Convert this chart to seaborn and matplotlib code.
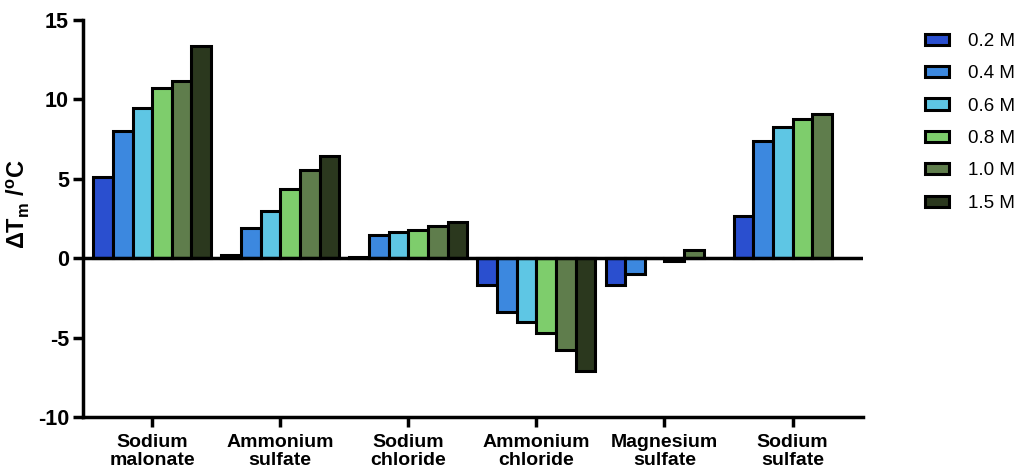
import matplotlib

matplotlib.use("Agg")

import matplotlib.pyplot as plt
import pandas as pd
import seaborn as sns

salts = [
    "Sodium\nmalonate",
    "Ammonium\nsulfate",
    "Sodium\nchloride",
    "Ammonium\nchloride",
    "Magnesium\nsulfate",
    "Sodium\nsulfate",
]
concentrations = ["0.2 M", "0.4 M", "0.6 M", "0.8 M", "1.0 M", "1.5 M"]

# delta Tm per salt, one list per concentration (None = not measured)
dtm_02 = [5.1, 0.2, 0.05, -1.7, -1.7, 2.65]
dtm_04 = [8.0, 1.9, 1.45, -3.4, -1.0, 7.35]
dtm_06 = [9.45, 3.0, 1.65, -4.0, 0.0, 8.25]
dtm_08 = [10.7, 4.35, 1.75, -4.7, -0.2, 8.75]
dtm_10 = [11.15, 5.55, 2.05, -5.8, 0.5, 9.05]
dtm_15 = [13.35, 6.45, 2.25, -7.1, None, None]

palette = ["#2a4fcf", "#3c88df", "#5ec6e4", "#7ecd6c", "#5f7d4c", "#2b381e"]

rows = []
for conc, vals in zip(concentrations, [dtm_02, dtm_04, dtm_06, dtm_08, dtm_10, dtm_15]):
    for salt, v in zip(salts, vals):
        rows.append({"salt": salt, "conc": conc, "dtm": v})
df = pd.DataFrame(rows)

sns.set_style("ticks")
plt.rcParams["font.family"] = ["Liberation Sans", "DejaVu Sans"]
plt.rcParams.update(
    {
        "text.color": "black",
        "axes.labelcolor": "black",
        "axes.edgecolor": "black",
        "xtick.color": "black",
        "ytick.color": "black",
        "axes.unicode_minus": False,
        "mathtext.fontset": "custom",
        "mathtext.rm": "Liberation Sans",
        "mathtext.bf": "Liberation Sans:bold",
    }
)

fig = plt.figure(figsize=(10.22, 4.73), dpi=100)
ax = fig.add_axes([0.0812, 0.1184, 0.7632, 0.8393])

sns.barplot(
    data=df,
    x="salt",
    y="dtm",
    hue="conc",
    hue_order=concentrations,
    order=salts,
    palette=palette,
    width=0.92,
    edgecolor="black",
    linewidth=2.2,
    saturation=1,
    errorbar=None,
    ax=ax,
)

ax.axhline(0, color="black", linewidth=2.5, zorder=5)
ax.set_ylim(-10, 15)
ax.set_xlim(-0.54, 5.55)
ax.set_yticks([-10, -5, 0, 5, 10, 15])
ax.set_xlabel("")
ax.set_ylabel(r"ΔT$_\mathbf{m}$ /$^\mathbf{o}$C", fontsize=17, fontweight="bold")
ax.yaxis.set_label_coords(-0.066, 0.535)

sns.despine(ax=ax)
for side in ["left", "bottom"]:
    ax.spines[side].set_linewidth(2.5)
ax.tick_params(axis="both", width=2.5, length=7)
ax.tick_params(axis="x", labelsize=14, pad=5)
ax.tick_params(axis="y", labelsize=15.5, pad=3)
for lab in ax.get_xticklabels() + ax.get_yticklabels():
    lab.set_fontweight("bold")
for lab in ax.get_xticklabels():
    lab.set_linespacing(1.1)

leg = ax.legend(
    loc="upper left",
    bbox_to_anchor=(1.058, 1.01),
    frameon=False,
    fontsize=13.5,
    handlelength=1.3,
    handleheight=0.55,
    labelspacing=0.82,
    handletextpad=1.0,
)

fig.savefig("out.png", dpi=100)
